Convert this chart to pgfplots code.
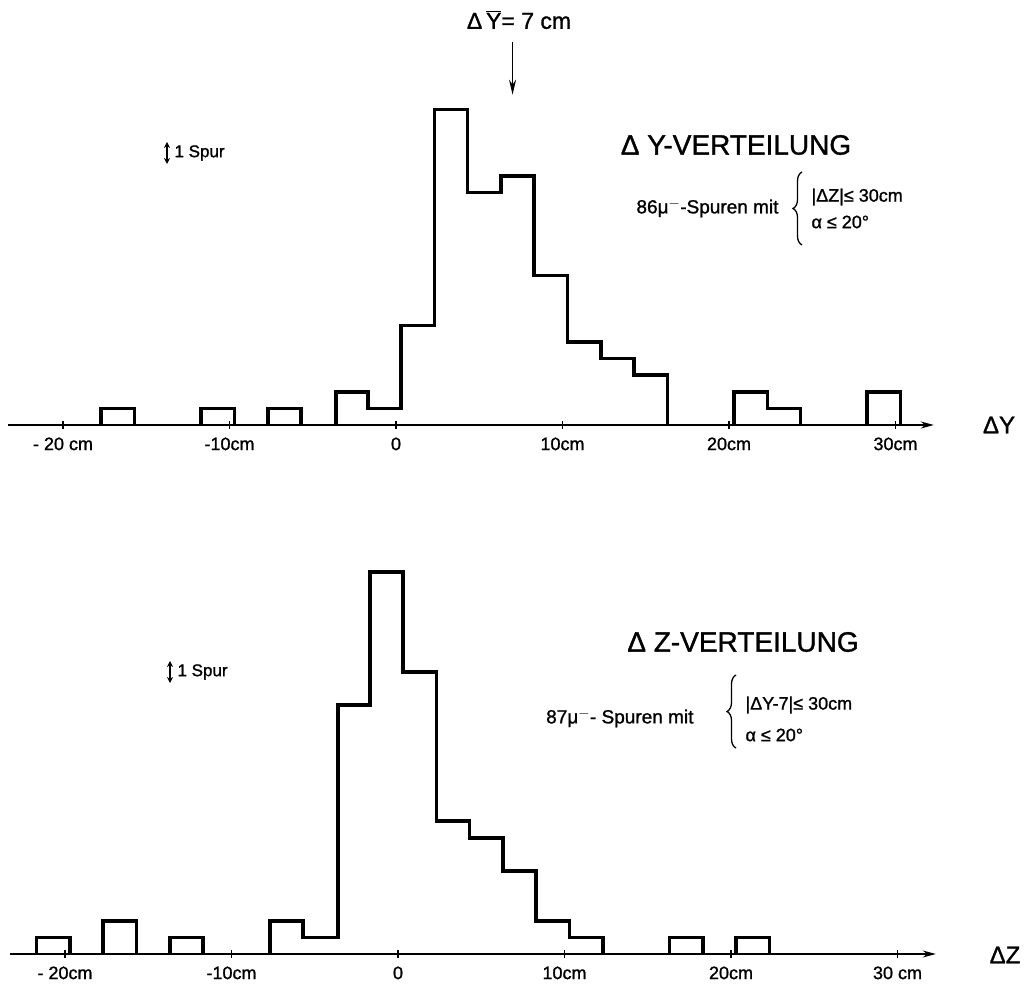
\documentclass[border=0pt]{standalone}
\usepackage{pgfplots}
\pgfplotsset{compat=1.18}
\usepackage{fontspec}
\setmainfont{Liberation Sans}[FakeBold=1.2]
\usetikzlibrary{arrows.meta,decorations.pathreplacing}
\newcommand{\fs}[1]{\fontsize{#1}{#1}\selectfont}
\begin{document}
\begin{tikzpicture}[x=1pt,y=1pt]
\useasboundingbox (0,0) rectangle (1027,983);
\pgfplotsset{
  histax/.style={
    anchor=origin, x=16.65pt, y=16.6pt,
    xmin=-23.3, xmax=32.3, ymin=0, ymax=24,
    axis x line*=bottom, axis y line=none, clip=false,
    x axis line style={line width=1.6pt,-{Stealth[length=13pt,width=7pt]}},
    xtick={-20,-10,0,10,20,30},
    major tick length=8pt, tick align=center,
    xtick style={line width=1.3pt,black},
    xticklabel style={font=\fs{18}, yshift=-5pt},
  },
  hist/.style={const plot mark left, line width=3.6pt, black, line join=miter, mark=none},
}
% ---------- Delta Y ----------
\begin{axis}[histax, at={(396pt,558pt)},
  xticklabels={{- 20 cm},{-10cm},{0},{10cm},{20cm},{30cm}}]
\addplot[hist] coordinates {(-17.7,0) (-17.7,1) (-15.7,0)};
\addplot[hist] coordinates {(-11.7,0) (-11.7,1) (-9.7,0)};
\addplot[hist] coordinates {(-7.7,0) (-7.7,1) (-5.7,0)};
\addplot[hist] coordinates {(-3.6,0) (-3.6,2) (-1.7,1) (0.3,6) (2.3,19) (4.3,14) (6.3,15) (8.3,9) (10.3,5) (12.3,4) (14.3,3) (16.3,0)};
\addplot[hist] coordinates {(20.3,0) (20.3,2) (22.3,1) (24.3,0)};
\addplot[hist] coordinates {(28.3,0) (28.3,2) (30.3,0)};
\draw[line width=1.4pt,-{Stealth[length=15pt,width=7pt]}] (axis cs:7,23.1) -- (axis cs:7,19.9);
\end{axis}
% ---------- Delta Z ----------
\begin{axis}[histax, at={(398pt,29pt)},
  xticklabels={{- 20cm},{-10cm},{0},{10cm},{20cm},{30 cm}}]
\addplot[hist] coordinates {(-21.7,0) (-21.7,1) (-19.7,0)};
\addplot[hist] coordinates {(-17.7,0) (-17.7,2) (-15.7,0)};
\addplot[hist] coordinates {(-13.7,0) (-13.7,1) (-11.7,0)};
\addplot[hist] coordinates {(-7.7,0) (-7.7,2) (-5.7,1) (-3.6,15) (-1.7,23) (0.3,17) (2.3,8) (4.3,7) (6.3,5) (8.3,2) (10.3,1) (12.3,0)};
\addplot[hist] coordinates {(16.3,0) (16.3,1) (18.3,0)};
\addplot[hist] coordinates {(20.3,0) (20.3,1) (22.3,0)};
\end{axis}
% ---------- annotations ----------
\node[font=\fs{23}] at (519,963) {Δ\,$\overline{\mbox{Y}}$= 7 cm};
\node[font=\fs{24}] at (999,558) {ΔY};
\node[font=\fs{24}] at (1005,28) {ΔZ};
% top
\node[font=\fs{28}] at (736,838) {Δ Y-VERTEILUNG};
\node[font=\fs{19},anchor=east] at (782,775) {86μ$^{-}$-Spuren mit};
\draw[decorate,decoration={brace,amplitude=9pt},line width=1.3pt] (802,738) -- (802,811);
\node[font=\fs{18},anchor=west] at (808,786) {|ΔZ|≤ 30cm};
\node[font=\fs{18},anchor=west] at (808,761) {α ≤ 20°};
\draw[line width=1.6pt,{Stealth[length=6pt,width=6pt]}-{Stealth[length=6pt,width=6pt]}] (167,819) -- (167,841);
\node[font=\fs{17},anchor=west] at (171,830) {1 Spur};
% bottom
\node[font=\fs{28}] at (743,341) {Δ Z-VERTEILUNG};
\node[font=\fs{19},anchor=east] at (697,265) {87μ$^{-}$- Spuren mit};
\draw[decorate,decoration={brace,amplitude=9pt},line width=1.3pt] (736,235) -- (736,308);
\node[font=\fs{18},anchor=west] at (742,278) {|ΔY-7|≤ 30cm};
\node[font=\fs{18},anchor=west] at (742,248) {α ≤ 20°};
\draw[line width=1.6pt,{Stealth[length=6pt,width=6pt]}-{Stealth[length=6pt,width=6pt]}] (170,300) -- (170,322);
\node[font=\fs{17},anchor=west] at (174,311) {1 Spur};
\end{tikzpicture}
\end{document}
